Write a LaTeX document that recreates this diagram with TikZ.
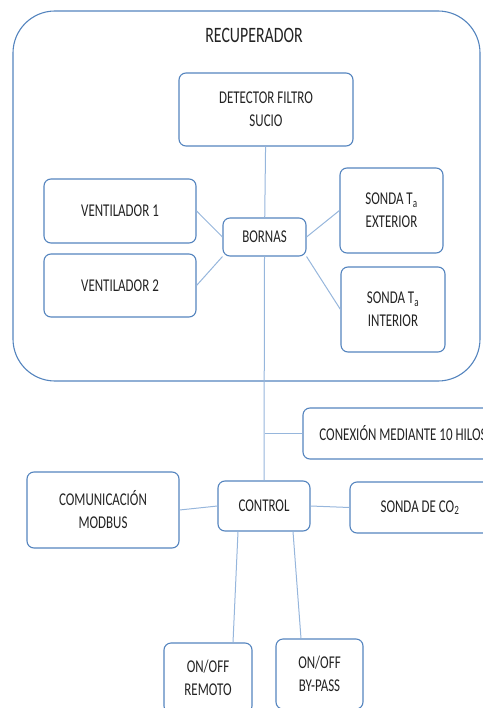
\documentclass[tikz,border=0pt]{standalone}
\usepackage{fontspec}
\newfontfamily\cajafont[FakeStretch=0.72]{Carlito}
\usepackage{tikz}

\definecolor{bordeazul}{RGB}{84,132,190}
\definecolor{lineaazul}{RGB}{150,182,220}
\definecolor{texto}{RGB}{35,35,35}

\tikzset{
  caja/.style={draw=bordeazul,line width=1.1pt,rounded corners=7pt,align=center,
    text=texto,font=\cajafont\fontsize{18}{23}\selectfont,inner sep=0pt},
  enlace/.style={draw=lineaazul,line width=1pt},
}

\begin{document}
\begin{tikzpicture}[x=1pt,y=-1pt]
      \useasboundingbox (0,0) rectangle (482,708);

      \node[caja,rounded corners=42pt,minimum width=467pt,minimum height=370pt] (recup) at (246.5,196) {};
      \node[text=texto,font=\cajafont\fontsize{22}{26}\selectfont] (titulo) at (254,35) {RECUPERADOR};

      \node[caja,minimum width=174pt,minimum height=73pt] (detector) at (266,109.5) {DETECTOR FILTRO\\SUCIO};
      \node[caja,minimum width=152pt,minimum height=64pt] (vent1) at (120,211) {VENTILADOR 1};
      \node[caja,minimum width=152pt,minimum height=63pt] (vent2) at (120,285.5) {VENTILADOR 2};
      \node[caja,minimum width=83pt,minimum height=38pt] (bornas) at (264.5,237) {BORNAS};
      \node[caja,minimum width=103pt,minimum height=85pt] (sext) at (391.5,210.5) {SONDA T\textsubscript{a}\\EXTERIOR};
      \node[caja,minimum width=104pt,minimum height=85pt] (sint) at (393,309.5) {SONDA T\textsubscript{a}\\INTERIOR};

      \node[caja,minimum width=200pt,minimum height=51pt] (conexion) at (403,433.5) {CONEXIÓN MEDIANTE 10 HILOS};
      \node[caja,minimum width=152pt,minimum height=76pt] (modbus) at (103,510) {COMUNICACIÓN\\MODBUS};
      \node[caja,minimum width=92pt,minimum height=50pt] (control) at (264,506) {CONTROL};
      \node[caja,minimum width=140pt,minimum height=51pt] (co2) at (420,507.5) {SONDA DE CO\textsubscript{2}};
      \node[caja,minimum width=88pt,minimum height=70pt] (remoto) at (208,678) {ON/OFF\\REMOTO};
      \node[caja,minimum width=87pt,minimum height=70pt] (bypass) at (319.5,674) {ON/OFF\\BY-PASS};

      \coordinate (union) at (bornas.south |- conexion.west);

      \draw[enlace] (detector) -- (bornas);
      \draw[enlace] (vent1.east) -- (bornas.west);
      \draw[enlace] (vent2.east) -- (bornas.south west);
      \draw[enlace] (bornas.east) -- (sext.west);
      \draw[enlace] (bornas.south east) -- (sint.west);
      \draw[enlace] (bornas.south) -- (control.north);
      \draw[enlace] (union) -- (conexion.west);
      \draw[enlace] (modbus.east) -- (control.west);
      \draw[enlace] (control.east) -- (co2.west);
      \draw[enlace] ([xshift=-26pt]control.south) -- ([xshift=25pt]remoto.north);
      \draw[enlace] ([xshift=29pt]control.south) -- ([xshift=-18.5pt]bypass.north);
    \end{tikzpicture}
\end{document}
